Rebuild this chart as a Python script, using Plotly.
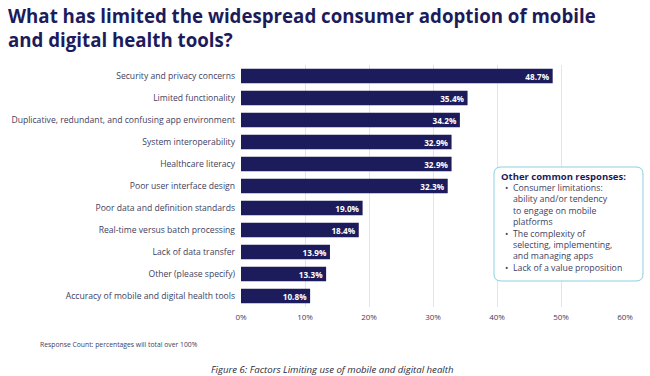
import plotly.graph_objects as go

categories = [
    "Security and privacy concerns",
    "Limited functionality",
    "Duplicative, redundant, and confusing app environment",
    "System interoperability",
    "Healthcare literacy",
    "Poor user interface design",
    "Poor data and definition standards",
    "Real-time versus batch processing",
    "Lack of data transfer",
    "Other (please specify)",
    "Accuracy of mobile and digital health tools",
]
values = [48.7, 35.4, 34.2, 32.9, 32.9, 32.3, 19.0, 18.4, 13.9, 13.3, 10.8]
tick_vals = [0, 10, 20, 30, 40, 50, 60]
tick_text = ["0%", "10%", "20%", "30%", "40%", "50%", "60%"]

box_title = "Other common responses:"
box_items = [
    ["Consumer limitations:", "ability and/or tendency", "to engage on mobile", "platforms"],
    ["The complexity of", "selecting, implementing,", "and managing apps"],
    ["Lack of a value proposition"],
]

W, H = 650, 376
L, R, T, B = 241, 25, 65, 69
PW, PH = W - L - R, H - T - B

def px(x):
    return (x - L) / PW

def py(y):
    return 1 - (y - T) / PH

NAVY = "#1c1b5b"
GREY = "#3e3e5e"
FONT = "Open Sans"

fig = go.Figure(go.Bar(
    x=values, y=categories, orientation="h",
    marker=dict(color=NAVY, line=dict(width=0)),
    text=[f"{v:.1f}%" for v in values],
    textposition="inside", insidetextanchor="end", constraintext="none",
    textfont=dict(color="white", size=8.2, family=FONT, weight="bold"),
    width=0.66,
))

fig.update_layout(
    width=W, height=H,
    margin=dict(l=L, r=R, t=T, b=B, autoexpand=False),
    paper_bgcolor="white", plot_bgcolor="white",
    showlegend=False,
    font=dict(family=FONT, color=GREY),
    xaxis=dict(range=[0, 60], tickvals=tick_vals, ticktext=tick_text,
               showgrid=True, gridcolor="#e2e3ef", gridwidth=1,
               zeroline=False, showline=False, ticks="",
               ticklabelstandoff=4,
               tickfont=dict(size=8, color=GREY)),
    yaxis=dict(autorange="reversed", showgrid=False, ticks="",
               ticklabelstandoff=5,
               tickfont=dict(size=8.6, color=GREY)),
)

fig.add_annotation(
    xref="paper", yref="paper", x=px(6), y=py(1), xanchor="left", yanchor="top",
    text="<b>What has limited the widespread consumer adoption of mobile<br>and digital health tools?</b>",
    showarrow=False, align="left",
    font=dict(family=FONT, size=18.7, color=NAVY),
)

fig.add_annotation(
    xref="paper", yref="paper", x=px(38), y=py(344), xanchor="left", yanchor="middle",
    text="Response Count: percentages will total over 100%",
    showarrow=False, font=dict(family=FONT, size=6.8, color=GREY),
)
fig.add_annotation(
    xref="paper", yref="paper", x=px(332), y=py(369), xanchor="center", yanchor="middle",
    text="<i>Figure 6: Factors Limiting use of mobile and digital health</i>",
    showarrow=False, font=dict(family=FONT, size=9.6, color="#2b2b3b"),
)

# rounded box
x0, x1, y0, y1, r = 494, 643, 167, 281, 7
def P(x, y):
    return f"{px(x):.5f},{py(y):.5f}"
path = (f"M {P(x0 + r, y0)} L {P(x1 - r, y0)} Q {P(x1, y0)} {P(x1, y0 + r)} "
        f"L {P(x1, y1 - r)} Q {P(x1, y1)} {P(x1 - r, y1)} "
        f"L {P(x0 + r, y1)} Q {P(x0, y1)} {P(x0, y1 - r)} "
        f"L {P(x0, y0 + r)} Q {P(x0, y0)} {P(x0 + r, y0)} Z")
fig.add_shape(type="path", xref="paper", yref="paper", path=path,
              fillcolor="white", line=dict(color="#8ccfe0", width=1), layer="above")

fig.add_annotation(
    xref="paper", yref="paper", x=px(499), y=py(176), xanchor="left", yanchor="middle",
    text=f"<b>{box_title}</b>", showarrow=False,
    font=dict(family=FONT, size=9.5, color=NAVY),
)
line_h = 11.4
all_lines = [ln for item in box_items for ln in item]
first_y = 188
center_y = first_y + line_h * (len(all_lines) - 1) / 2
fig.add_annotation(
    xref="paper", yref="paper", x=px(511), y=py(center_y), xanchor="left", yanchor="middle",
    text="<br>".join(all_lines), showarrow=False, align="left",
    font=dict(family=FONT, size=line_h / 1.3, color=GREY),
)
idx = 0
for item in box_items:
    fig.add_annotation(
        xref="paper", yref="paper", x=px(503), y=py(first_y + idx * line_h),
        xanchor="left", yanchor="middle", text="•", showarrow=False,
        font=dict(family=FONT, size=8.8, color=GREY),
    )
    idx += len(item)

fig.write_html("out.html", config={"displayModeBar": False},
               post_script="document.body.style.margin='0';")
